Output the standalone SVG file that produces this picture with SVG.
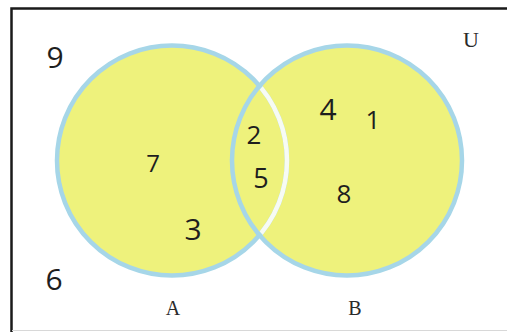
<svg xmlns="http://www.w3.org/2000/svg" width="507" height="332" viewBox="0 0 507 332">
<style>
.fill{fill:#eef27c;stroke:none}
.ring{fill:none;stroke:#a6d6e8;stroke-width:4.5}
.inner{fill:none;stroke:#f7fbf4;stroke-width:4.5}
.n{font-family:"Open Sans","Liberation Sans",sans-serif;fill:#1e1e1e;text-anchor:middle}
.lbl{font-family:"Liberation Serif","DejaVu Serif",serif;fill:#2a2a2a;text-anchor:middle}
</style>
<defs>
<clipPath id="insideB"><circle cx="347" cy="160.5" r="112.5"/></clipPath>
</defs>
<rect width="507" height="332" fill="#ffffff"/>
<g id="frame">
<path d="M11.5,332 V8.5 H507" fill="none" stroke="#1a1a1a" stroke-width="2.5"/>
<path d="M12,330.5 H507" fill="none" stroke="#d8d8d8" stroke-width="1"/>
</g>
<g id="setA">
<circle class="fill" cx="172" cy="160.5" r="115"/>
</g>
<g id="setB">
<circle class="fill" cx="347" cy="160.5" r="115"/>
</g>
<g id="outlines">
<circle class="ring" cx="172" cy="160.5" r="115"/>
<circle class="ring" cx="347" cy="160.5" r="115"/>
<circle class="inner" cx="172" cy="160.5" r="115" clip-path="url(#insideB)"/>
</g>
<g id="universe">
<text class="lbl" x="471" y="47" font-size="22">U</text>
<text class="n" x="55" y="68" font-size="30">9</text>
<text class="n" x="54" y="290" font-size="30">6</text>
</g>
<g id="labelA"><text class="lbl" x="173" y="315" font-size="20">A</text></g>
<g id="labelB"><text class="lbl" x="355" y="315" font-size="20">B</text></g>
<g id="onlyA">
<text class="n" x="153" y="172" font-size="24">7</text>
<text class="n" x="193" y="240" font-size="30">3</text>
</g>
<g id="AandB">
<text class="n" x="254" y="144" font-size="26">2</text>
<text class="n" x="261" y="188" font-size="27">5</text>
</g>
<g id="onlyB">
<text class="n" x="328" y="120" font-size="30">4</text>
<text class="n" x="373" y="129" font-size="26">1</text>
<text class="n" x="344" y="203" font-size="26">8</text>
</g>
</svg>
